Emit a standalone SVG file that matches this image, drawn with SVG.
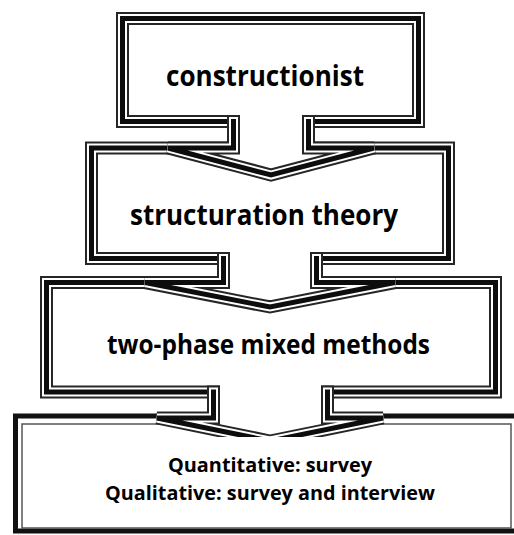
<svg xmlns="http://www.w3.org/2000/svg" xmlns:xlink="http://www.w3.org/1999/xlink" width="514" height="535" viewBox="0 0 514 535">
  <style>
    .bg { fill: #ffffff; }
    .fill { fill: #ffffff; stroke: none; }
    .o { fill: none; stroke: #262626; stroke-width: 13; stroke-linecap: square; stroke-linejoin: miter; }
    .m { fill: none; stroke: #ffffff; stroke-width: 9; stroke-linecap: square; stroke-linejoin: miter; }
    .i { fill: none; stroke: #0d0d0d; stroke-width: 5; stroke-linecap: square; stroke-linejoin: miter; }
    .b4o { fill: #ffffff; stroke: #111111; stroke-width: 5; }
    .b4i { fill: none; stroke: #555555; stroke-width: 1.5; }
    .t { font-family: "Open Sans", "Noto Sans", "Liberation Sans", sans-serif; font-weight: 700; fill: #000000; text-anchor: middle; }
  </style>
  <defs>
    <path id="p1" d="M233.5,121.5 H122.5 V18.5 H418.5 V121.5 H308.5"/>
    <path id="p2" d="M223.5,258.5 H91.5 V148 H448.5 V258.5 H316.5"/>
    <path id="p3" d="M213.5,392 H46.5 V282.5 H495.5 V392 H327.5"/>
    <path id="c1" d="M233.5,121.5 V148 H168 L271,175 L374,148 H308.5 V121.5"/>
    <path id="c2" d="M223.5,258.5 V282.5 H145 L270,307 L395,282.5 H316.5 V258.5"/>
    <path id="c3" d="M213.5,392 V418 H157 L270,441 L383,418 H327.5 V392"/>
    <clipPath id="cut"><rect x="0" y="0" width="514" height="437"/></clipPath>
  </defs>
  <rect class="bg" x="0" y="0" width="514" height="535"/>

  <g id="node-methods-detail">
    <rect class="b4o" x="15.5" y="416" width="505" height="115"/>
    <rect class="b4i" x="22" y="424" width="489" height="104"/>
    <text class="t" x="270" y="472" font-size="20" textLength="204" lengthAdjust="spacingAndGlyphs">Quantitative: survey</text>
    <text class="t" x="270" y="500" font-size="20" textLength="330" lengthAdjust="spacingAndGlyphs">Qualitative: survey and interview</text>
  </g>

  <g id="node-two-phase">
    <use xlink:href="#p3" class="fill"/>
    <use xlink:href="#p3" class="o"/>
    <use xlink:href="#p3" class="m"/>
    <use xlink:href="#p3" class="i"/>
    <text class="t" x="268.5" y="354" font-size="26" textLength="323" lengthAdjust="spacingAndGlyphs">two-phase mixed methods</text>
  </g>

  <g id="node-structuration">
    <use xlink:href="#p2" class="fill"/>
    <use xlink:href="#p2" class="o"/>
    <use xlink:href="#p2" class="m"/>
    <use xlink:href="#p2" class="i"/>
    <text class="t" x="264" y="225" font-size="28" textLength="268" lengthAdjust="spacingAndGlyphs">structuration theory</text>
  </g>

  <g id="node-constructionist">
    <use xlink:href="#p1" class="fill"/>
    <use xlink:href="#p1" class="o"/>
    <use xlink:href="#p1" class="m"/>
    <use xlink:href="#p1" class="i"/>
    <text class="t" x="265" y="86" font-size="29" textLength="198" lengthAdjust="spacingAndGlyphs">constructionist</text>
  </g>

  <g id="connectors">
    <g id="conn-1-2">
      <use xlink:href="#c1" class="fill"/>
      <use xlink:href="#c1" class="o"/>
      <use xlink:href="#c1" class="m"/>
      <use xlink:href="#c1" class="i"/>
    </g>
    <g id="conn-2-3">
      <use xlink:href="#c2" class="fill"/>
      <use xlink:href="#c2" class="o"/>
      <use xlink:href="#c2" class="m"/>
      <use xlink:href="#c2" class="i"/>
    </g>
    <g id="conn-3-4" clip-path="url(#cut)">
      <use xlink:href="#c3" class="fill"/>
      <use xlink:href="#c3" class="o"/>
      <use xlink:href="#c3" class="m"/>
      <use xlink:href="#c3" class="i"/>
    </g>
  </g>
</svg>
